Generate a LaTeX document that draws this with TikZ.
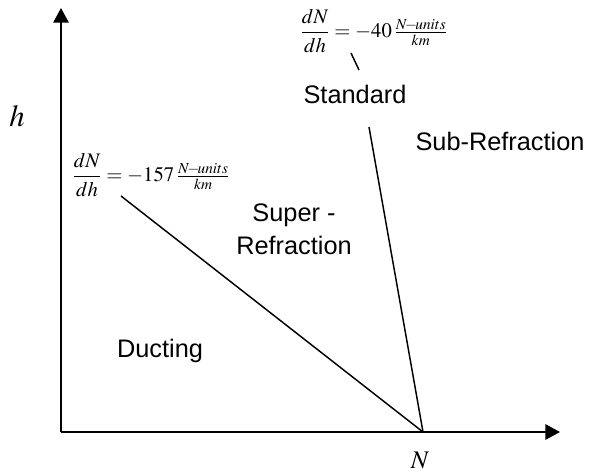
\documentclass[tikz,border=0pt]{standalone}
\usepackage{mathptmx}
\usepackage[no-math]{fontspec}
\setmainfont{Liberation Sans}
\usetikzlibrary{arrows.meta}

\begin{document}
\begin{tikzpicture}[x=0.75pt, y=-0.75pt, >={Triangle[length=11pt,width=11.5pt]},
                    every node/.style={inner sep=0pt},
                    axis/.style={line width=1.5pt, ->},
                    bound/.style={line width=1.1pt},
                    region/.style={font=\fontsize{19}{24.75}\selectfont, align=center},
                    grad/.style={font=\fontsize{15.5}{18}\selectfont, anchor=west},
                    var/.style={anchor=base, font=\fontsize{23}{26}\selectfont}]

  \useasboundingbox (0,0) rectangle (592,475);

  %% axes
  \coordinate (O) at (61,432);
  \coordinate (htop) at (61,8);
  \coordinate (Nend) at (560,432);
  \draw[axis] (O) -- (htop);
  \draw[axis] (O) -- (Nend);
  \node[var] (hlab) at (17,126) {$h$};
  \node[var, font=\fontsize{19}{22}\selectfont] (Nlab) at (420,468) {$N$};

  %% the two boundaries meet on the N axis
  \coordinate (P) at (423,432);
  \coordinate (ductend) at (121,196);
  \coordinate (stdend) at (369,127);
  \draw[bound] (P) -- (ductend);
  \draw[bound] (P) -- (stdend);

  %% gradients of the two boundaries
  \node[grad] (gradstd) at (300,31)
    {$\displaystyle\frac{dN}{dh}=-40\,{\textstyle\frac{N\!-\!units}{km}}$};
  \node[grad] (gradduct) at (72,175)
    {$\displaystyle\frac{dN}{dh}=-157\,{\textstyle\frac{N\!-\!units}{km}}$};

  %% small tick from the -40 gradient down to its label
  \coordinate (tka) at (351,53);
  \coordinate (tkb) at (359,70);
  \draw[bound] (tka) -- (tkb);

  %% names of the regions
  \node[region, anchor=base] (standard) at (355,103) {Standard};
  \node[region, anchor=base] (subref) at (500,150) {Sub-Refraction};
  \node[region] (superref) at (294,229) {Super -\\Refraction};
  \node[region, anchor=base] (ducting) at (160,357) {Ducting};

\end{tikzpicture}
\end{document}
